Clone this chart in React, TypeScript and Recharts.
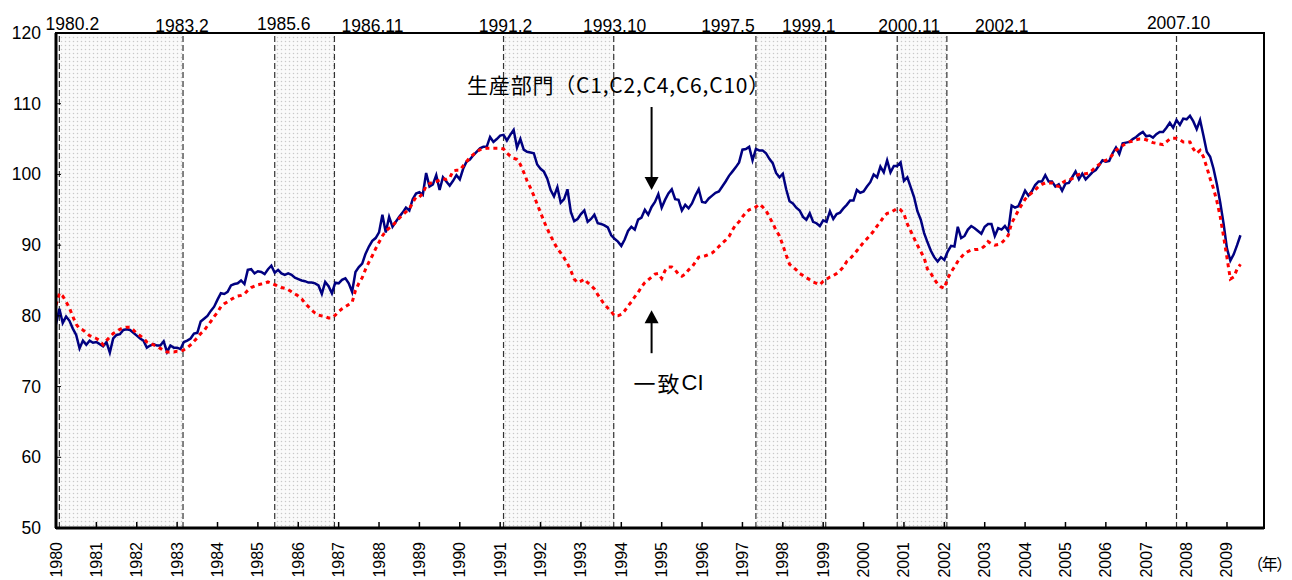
import {
  LineChart,
  Line,
  XAxis,
  YAxis,
  ReferenceArea,
  ReferenceLine,
  ReferenceDot,
} from "recharts";

const startYear = 1980;
const lastMonth = 359; // 2009.12

// 生産部門 (C1,C2,C4,C6,C10), monthly from 1980.1
const production = [
  78.8, 81.0, 79.0, 79.9, 79.3, 78.2, 77.3, 75.4, 76.5, 75.9, 76.5, 76.2, // 1980
  76.3, 76.0, 75.7, 76.3, 74.8, 76.8, 77.3, 77.4, 78.0, 78.1, 78.0, 77.6, // 1981
  77.2, 76.8, 76.5, 75.5, 75.8, 76.0, 75.8, 75.8, 76.4, 74.9, 75.8, 75.5, // 1982
  75.5, 75.3, 76.3, 76.5, 76.8, 77.5, 77.6, 79.2, 79.6, 80.0, 80.7, 81.3, // 1983
  82.3, 83.2, 83.1, 83.4, 84.3, 84.5, 84.6, 85.0, 84.5, 86.5, 86.6, 86.0, // 1984
  86.3, 86.2, 85.9, 86.6, 87.1, 86.1, 86.5, 86.0, 85.8, 86.0, 85.8, 85.4, // 1985
  85.2, 85.0, 84.9, 84.7, 84.7, 84.6, 84.3, 83.1, 84.8, 84.2, 83.2, 84.7, // 1986
  84.6, 85.1, 85.3, 84.6, 83.4, 86.2, 86.9, 87.4, 88.8, 89.8, 90.6, 91.0, // 1987
  91.8, 94.3, 91.8, 94.0, 92.6, 93.3, 94.0, 94.6, 95.3, 94.9, 96.5, 97.3, // 1988
  97.5, 97.1, 100.2, 98.3, 98.6, 99.9, 97.8, 99.6, 99.0, 98.4, 99.1, 99.9, // 1989
  99.3, 100.8, 101.8, 102.1, 102.7, 103.2, 103.7, 103.9, 103.9, 105.3, 104.6, 105.0, // 1990
  105.5, 105.6, 104.8, 105.6, 106.3, 103.8, 105.0, 103.5, 103.2, 103.1, 103.0, 101.4, // 1991
  100.8, 100.4, 99.4, 97.8, 96.9, 98.2, 96.0, 96.5, 97.9, 94.7, 93.4, 93.7, // 1992
  94.4, 94.9, 93.3, 93.7, 94.3, 93.1, 93.0, 92.8, 92.5, 91.4, 90.9, 90.5, // 1993
  89.9, 90.8, 92.0, 92.6, 92.2, 93.6, 93.9, 95.0, 94.3, 95.4, 96.1, 97.2, // 1994
  95.3, 96.4, 97.3, 97.9, 96.5, 96.4, 94.9, 95.7, 95.2, 95.9, 97.0, 97.9, // 1995
  96.1, 96.0, 96.6, 97.0, 97.4, 97.6, 98.3, 99.0, 99.8, 100.4, 101.0, 101.7, // 1996
  103.5, 103.6, 103.9, 102.0, 103.6, 103.4, 103.4, 103.0, 102.2, 101.6, 100.2, 99.6, // 1997
  100.1, 97.9, 96.2, 95.9, 95.3, 94.9, 94.0, 93.6, 94.5, 93.3, 93.1, 92.7, // 1998
  93.5, 93.3, 94.8, 93.7, 94.4, 94.6, 95.2, 95.7, 96.3, 96.3, 97.8, 97.4, // 1999
  97.6, 98.3, 98.9, 100.0, 99.6, 101.1, 100.3, 102.0, 100.3, 101.2, 101.2, 101.7, // 2000
  99.1, 99.6, 98.2, 96.8, 94.8, 93.6, 91.7, 90.4, 89.2, 88.3, 87.7, 88.3, // 2001
  87.9, 89.1, 89.9, 89.8, 92.6, 91.0, 91.3, 92.2, 92.7, 92.4, 92.0, 91.6, // 2002
  92.6, 93.0, 93.0, 91.3, 92.4, 92.2, 92.7, 92.0, 95.6, 95.3, 95.5, 96.6, // 2003
  97.7, 97.0, 97.6, 98.5, 99.0, 99.0, 99.9, 99.0, 99.0, 98.3, 98.6, 97.7, // 2004
  98.7, 98.8, 99.6, 100.4, 99.3, 100.1, 99.3, 99.8, 100.3, 100.6, 101.3, 102.0, // 2005
  101.8, 101.9, 103.0, 103.8, 102.9, 104.4, 104.5, 104.6, 105.0, 105.3, 105.7, 106.0, // 2006
  105.4, 105.5, 105.2, 105.7, 106.0, 106.0, 106.6, 107.3, 106.6, 107.7, 107.0, 107.9, // 2007
  107.8, 108.3, 107.5, 106.4, 107.7, 105.5, 103.2, 102.5, 100.8, 98.6, 96.0, 93.0, // 2008
  89.5, 87.8, 88.7, 90.0, 91.4, // 2009
];

// 一致CI, monthly from 1980.1
const coincidentCI = [
  81.5, 83.2, 82.8, 82.0, 81.1, 79.9, 78.8, 78.2, 78.0, 77.6, 77.2, 77.0, // 1980
  76.8, 76.5, 75.9, 76.5, 77.0, 77.5, 77.8, 78.1, 78.3, 78.4, 78.4, 78.0, // 1981
  77.5, 77.2, 76.8, 76.3, 76.1, 75.9, 75.7, 75.4, 75.1, 74.9, 74.9, 74.9, // 1982
  75.0, 75.0, 75.2, 75.5, 75.9, 76.4, 76.9, 77.5, 77.9, 78.6, 79.2, 79.9, // 1983
  80.5, 81.3, 81.7, 82.0, 82.3, 82.6, 82.8, 82.9, 83.1, 83.6, 84.0, 84.2, // 1984
  84.4, 84.5, 84.6, 84.8, 84.6, 84.4, 84.2, 84.0, 83.9, 83.7, 83.4, 83.1, // 1985
  82.8, 82.4, 81.8, 81.3, 80.8, 80.4, 80.1, 80.0, 79.9, 79.7, 79.7, 80.1, // 1986
  80.6, 81.0, 81.3, 81.6, 81.9, 83.6, 84.6, 85.4, 86.6, 87.6, 88.5, 89.5, // 1987
  90.4, 91.3, 92.0, 92.4, 92.7, 93.3, 93.8, 94.3, 94.7, 95.1, 96.0, 96.8, // 1988
  96.8, 97.3, 98.4, 98.7, 98.9, 99.0, 99.2, 99.4, 99.3, 99.5, 100.5, 100.6, // 1989
  100.6, 101.2, 101.8, 102.4, 102.8, 103.2, 103.5, 103.6, 103.7, 103.7, 103.7, 103.7, // 1990
  103.7, 103.6, 103.0, 102.6, 102.3, 102.1, 101.4, 100.3, 99.1, 98.1, 97.0, 95.8, // 1991
  94.6, 93.4, 92.3, 91.3, 90.4, 89.5, 88.9, 88.2, 87.4, 86.4, 85.2, 84.7, // 1992
  84.9, 85.2, 84.7, 84.3, 83.8, 83.0, 82.3, 81.6, 81.1, 80.6, 80.0, 80.0, // 1993
  80.2, 80.7, 81.4, 82.0, 82.7, 83.3, 84.1, 84.7, 85.1, 85.5, 85.9, 86.0, // 1994
  85.3, 86.4, 86.9, 86.9, 86.5, 85.9, 85.6, 85.9, 86.5, 86.9, 87.6, 88.3, // 1995
  88.4, 88.5, 88.7, 88.9, 89.3, 89.8, 90.3, 90.7, 91.2, 92.1, 92.9, 93.3, // 1996
  94.0, 94.6, 95.0, 95.2, 95.4, 95.8, 95.4, 94.9, 94.0, 93.1, 92.1, 91.3, // 1997
  90.0, 88.6, 87.3, 86.9, 86.5, 86.0, 85.7, 85.4, 85.1, 84.8, 84.6, 84.4, // 1998
  84.9, 85.2, 85.5, 85.7, 86.0, 86.4, 86.9, 87.7, 88.1, 88.6, 89.2, 89.8, // 1999
  90.4, 90.9, 91.4, 92.0, 92.7, 93.3, 94.0, 94.5, 94.6, 94.9, 95.2, 95.0, // 2000
  94.4, 93.0, 92.0, 91.0, 90.0, 89.1, 88.2, 86.6, 86.0, 85.2, 84.5, 84.1, // 2001
  83.9, 85.3, 86.2, 86.9, 87.7, 88.3, 88.8, 89.1, 89.3, 89.4, 89.4, 89.5, // 2002
  89.9, 90.5, 90.2, 90.0, 90.1, 90.3, 90.8, 91.4, 93.1, 94.0, 94.9, 95.7, // 2003
  96.5, 97.0, 97.4, 97.8, 98.3, 98.6, 98.8, 98.8, 98.8, 98.4, 98.3, 98.8, // 2004
  99.1, 99.2, 99.4, 99.8, 100.0, 100.1, 100.1, 100.2, 100.6, 101.1, 101.4, 101.8, // 2005
  102.0, 102.2, 102.8, 103.4, 103.8, 104.1, 104.4, 104.6, 104.7, 104.9, 105.0, 105.0, // 2006
  104.9, 104.7, 104.5, 104.4, 104.3, 104.2, 104.6, 105.0, 105.1, 105.1, 104.9, 104.6, // 2007
  104.6, 104.6, 103.6, 103.0, 103.4, 102.5, 101.0, 99.4, 98.0, 96.2, 94.0, 91.2, // 2008
  88.2, 85.2, 85.5, 86.6, 87.3, // 2009
];

const peaks = ["1980.2", "1985.6", "1991.2", "1997.5", "2000.11", "2007.10"];
const troughs = ["1983.2", "1986.11", "1993.10", "1999.1", "2002.1"];
const valueTicks = [50, 60, 70, 80, 90, 100, 110, 120];
const yearTicks = Array.from({ length: 30 }, (_, i) => i * 12);

// label nudges [dx, dy] for the turning-point captions
const labelShift: Record<string, [number, number]> = {
  "1980.2": [13, -2],
  "1983.2": [-1, 0],
  "1985.6": [9, -2],
  "1986.11": [38, 0],
  "1991.2": [2, 0],
  "1993.10": [1, 0],
  "1997.5": [-28, 0],
  "1999.1": [-17, 0],
  "2000.11": [12, 0],
  "2002.1": [55, 0],
  "2007.10": [2, -3],
};
const TROUGH_SHIFT = 0.75;

const numFont = "'Liberation Sans', Arial, sans-serif";
const jpFont = "'Noto Sans CJK JP', sans-serif";

function monthIndex(label: string) {
  const [y, m] = label.split(".").map(Number);
  return (y - startYear) * 12 + m - 1;
}

const data = production.map((p, i) => ({ m: i, p, ci: coincidentCI[i] }));

const turningLabel = (text: string) => (props: any) => {
  const { x, y } = props.viewBox;
  const [dx, dy] = labelShift[text] || [0, 0];
  return (
    <text
      x={x + dx}
      y={y - 1 + dy}
      textAnchor="middle"
      fontSize={17.5}
      fontFamily={numFont}
      fill="#000"
    >
      {text}
    </text>
  );
};

const YTick = (props: any) => {
  const { x, y, payload } = props;
  return (
    <g>
      <line x1={x + 15} x2={x + 20} y1={y} y2={y} stroke="#000" strokeWidth={1} />
      <text
        x={x}
        y={y}
        textAnchor="end"
        dominantBaseline="central"
        fontSize={17.5}
        fontFamily={numFont}
        fill="#000"
      >
        {payload.value}
      </text>
    </g>
  );
};

const XTick = (props: any) => {
  const { x, y, payload } = props;
  return (
    <g>
      <line x1={x} x2={x} y1={y - 14} y2={y - 20} stroke="#000" strokeWidth={1.5} />
      <text
        x={x}
        y={y}
        transform={`rotate(-90, ${x}, ${y})`}
        textAnchor="end"
        dominantBaseline="central"
        fontSize={16}
        fontFamily={numFont}
        fill="#000"
      >
        {startYear + payload.value / 12}
      </text>
    </g>
  );
};

const DownArrowNote = (props: any) => {
  const { cx, cy } = props;
  return (
    <g>
      <line x1={cx} x2={cx} y1={cy - 83} y2={cy - 11} stroke="#000" strokeWidth={2} />
      <polygon points={`${cx},${cy} ${cx - 7},${cy - 13} ${cx + 7},${cy - 13}`} fill="#000" />
      <text
        x={cx - 33}
        y={cy - 106}
        textAnchor="middle"
        dominantBaseline="central"
        fontSize={21}
        letterSpacing={0.8}
        fontFamily={jpFont}
        fill="#000"
      >
        生産部門（C1,C2,C4,C6,C10）
      </text>
    </g>
  );
};

const UpArrowNote = (props: any) => {
  const { cx, cy } = props;
  return (
    <g>
      <line x1={cx} x2={cx} y1={cy + 11} y2={cy + 43} stroke="#000" strokeWidth={2} />
      <polygon points={`${cx},${cy} ${cx - 7},${cy + 13} ${cx + 7},${cy + 13}`} fill="#000" />
      <text
        x={cx + 17}
        y={cy + 72}
        textAnchor="middle"
        dominantBaseline="central"
        fontSize={22}
        fill="#000"
      >
        <tspan fontFamily={jpFont} letterSpacing={2}>一致</tspan>
        <tspan fontFamily={numFont}>CI</tspan>
      </text>
    </g>
  );
};

const YearUnit = (props: any) => {
  const { cx, cy } = props;
  return (
    <text
      x={cx + 5}
      y={cy + 35}
      textAnchor="middle"
      dominantBaseline="central"
      fontSize={16}
      letterSpacing={-1.5}
      fontFamily={jpFont}
      fill="#000"
    >
      （年）
    </text>
  );
};

export default function App() {
  return (
    <div style={{ width: 1292, height: 580 }}>
      <style>{`body { margin: 0; }`}</style>
      <LineChart
        width={1292}
        height={580}
        data={data}
        margin={{ top: 33, right: 28, bottom: 0, left: 0 }}
      >
        <defs>
          <pattern id="recessionDots" width="4" height="4" patternUnits="userSpaceOnUse">
            <rect width="4" height="4" fill="#fafafa" />
            <circle cx="1.5" cy="1.5" r="0.75" fill="#c9c9c9" />
          </pattern>
        </defs>
        <XAxis
          type="number"
          dataKey="m"
          domain={[0, lastMonth]}
          ticks={yearTicks}
          interval={0}
          allowDataOverflow
          height={52}
          tickSize={0}
          tickMargin={14}
          tickLine={false}
          tick={<XTick />}
          axisLine={{ stroke: "#000", strokeWidth: 3 }}
        />
        <YAxis
          type="number"
          domain={[50, 120]}
          ticks={valueTicks}
          interval={0}
          allowDataOverflow
          width={56}
          tickSize={0}
          tickMargin={15}
          tickLine={false}
          tick={<YTick />}
          axisLine={{ stroke: "#000", strokeWidth: 3 }}
        />
        {troughs.map((t, i) => (
          <ReferenceArea
            key={`area-${t}`}
            x1={monthIndex(peaks[i])}
            x2={monthIndex(t) + TROUGH_SHIFT}
            y1={50}
            y2={120}
            fill="url(#recessionDots)"
            fillOpacity={1}
            stroke="none"
          />
        ))}
        <ReferenceArea
          x1={0}
          x2={lastMonth}
          y1={50}
          y2={120}
          fill="none"
          stroke="#000"
          strokeWidth={2}
        />
        {peaks.map((p) => (
          <ReferenceLine
            key={`peak-${p}`}
            x={monthIndex(p)}
            stroke="#333"
            strokeWidth={1.2}
            strokeDasharray="6 3"
            label={turningLabel(p)}
          />
        ))}
        {troughs.map((t) => (
          <ReferenceLine
            key={`trough-${t}`}
            x={monthIndex(t) + TROUGH_SHIFT}
            stroke="#333"
            strokeWidth={1.2}
            strokeDasharray="6 3"
            label={turningLabel(t)}
          />
        ))}
        <Line
          type="linear"
          dataKey="p"
          stroke="#000080"
          strokeWidth={2.5}
          dot={false}
          activeDot={false}
          isAnimationActive={false}
        />
        <Line
          type="linear"
          dataKey="ci"
          stroke="#ff0000"
          strokeWidth={3}
          strokeDasharray="4 4"
          dot={false}
          activeDot={false}
          isAnimationActive={false}
        />
        <ReferenceDot x={177} y={97.8} r={0} shape={DownArrowNote} ifOverflow="visible" />
        <ReferenceDot x={177} y={80.8} r={0} shape={UpArrowNote} ifOverflow="visible" />
        <ReferenceDot x={lastMonth} y={50} r={0} shape={YearUnit} ifOverflow="visible" />
      </LineChart>
    </div>
  );
}
